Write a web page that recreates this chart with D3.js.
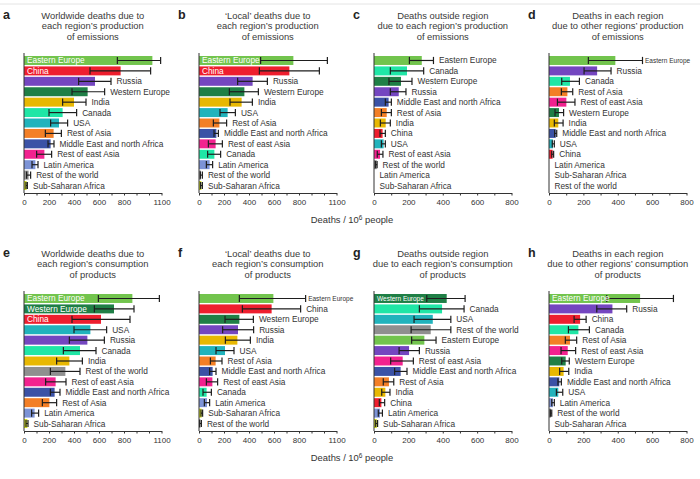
<!DOCTYPE html>
<html>
<head>
<meta charset="utf-8">
<script src="https://cdn.jsdelivr.net/npm/d3@7"></script>
<style>
  body { margin: 0; background: #fff; }
  text { font-family: "Liberation Sans", Arial, sans-serif; }
</style>
</head>
<body>
<svg id="chart" width="700" height="479"></svg>
<script>
// region colours
const regionColors = {
  "Eastern Europe": "#72c44d",
  "China": "#ee1e2e",
  "Russia": "#7446c0",
  "Western Europe": "#1f7f46",
  "India": "#e8b802",
  "Canada": "#20e6a6",
  "USA": "#21b3bc",
  "Rest of Asia": "#f37f26",
  "Middle East and north Africa": "#3b52a6",
  "Rest of east Asia": "#f2228f",
  "Latin America": "#7c93d6",
  "Rest of the world": "#8f8f8f",
  "Sub-Saharan Africa": "#d5e021",
};

const ticks1100 = [0, 200, 400, 600, 800, 1100];
const ticks800 = [0, 200, 400, 600, 800];

// a
const aNames = ["Eastern Europe", "China", "Russia", "Western Europe", "India", "Canada", "USA",
  "Rest of Asia", "Middle East and north Africa", "Rest of east Asia", "Latin America",
  "Rest of the world", "Sub-Saharan Africa"];
const aDeaths = [1027, 773, 568, 509, 400, 309, 280, 237, 213, 163, 91, 37, 21];
const aLow = [747, 528, 437, 384, 309, 200, 213, 171, 192, 101, 64, 21, 16];
const aHigh = [1093, 1013, 696, 645, 496, 421, 349, 299, 240, 221, 112, 53, 27];

// b
const bNames = ["Eastern Europe", "China", "Russia", "Western Europe", "India", "USA",
  "Rest of Asia", "Middle East and north Africa", "Rest of east Asia", "Canada", "Latin America",
  "Rest of the world", "Sub-Saharan Africa"];
const bDeaths = [755, 723, 429, 363, 341, 229, 163, 139, 133, 123, 85, 16, 19];
const bLow = [493, 483, 309, 243, 248, 168, 115, 120, 75, 69, 59, 11, 13];
const bHigh = [1027, 963, 547, 475, 427, 291, 221, 155, 187, 173, 109, 27, 27];

// c
const cNames = ["Eastern Europe", "Canada", "Western Europe", "Russia", "Middle East and north Africa",
  "Rest of Asia", "India", "China", "USA", "Rest of east Asia", "Rest of the world",
  "Latin America", "Sub-Saharan Africa"];
const cDeaths = [278, 192, 157, 144, 85, 74, 68, 50, 56, 35, 16, 0, 0];
const cLow = [206, 95, 87, 95, 66, 43, 37, 35, 43, 19, 8, 0, 0];
const cHigh = [346, 289, 221, 186, 101, 101, 95, 66, 66, 52, 18, 0, 0];

// d
const dNames = ["Eastern Europe", "Russia", "Canada", "Rest of Asia", "Rest of east Asia",
  "Western Europe", "India", "Middle East and north Africa", "USA", "China", "Latin America",
  "Sub-Saharan Africa", "Rest of the world"];
const dDeaths = [386, 280, 122, 107, 101, 58, 54, 39, 23, 21, 0, 0, 0];
const dLow = [229, 204, 74, 72, 49, 35, 31, 33, 19, 16, 0, 0, 0];
const dHigh = [544, 361, 177, 138, 151, 85, 82, 45, 31, 27, 0, 0, 0];

// e
const eNames = ["Eastern Europe", "Western Europe", "China", "USA", "Russia", "Canada", "India",
  "Rest of the world", "Rest of east Asia", "Middle East and north Africa", "Rest of Asia",
  "Latin America", "Sub-Saharan Africa"];
const eDeaths = [867, 720, 616, 531, 507, 448, 363, 331, 253, 245, 203, 85, 27];
const eLow = [595, 563, 384, 400, 363, 315, 261, 211, 173, 211, 147, 61, 16];
const eHigh = [1083, 880, 848, 661, 643, 576, 467, 448, 336, 288, 261, 117, 32];

// f
const fNames = ["Eastern Europe", "China", "Western Europe", "Russia", "India", "USA",
  "Rest of Asia", "Middle East and north Africa", "Rest of east Asia", "Canada", "Latin America",
  "Sub-Saharan Africa", "Rest of the world"];
const fDeaths = [595, 581, 323, 312, 307, 208, 133, 109, 107, 61, 64, 21, 11];
const fLow = [323, 347, 208, 189, 211, 136, 91, 85, 59, 32, 43, 16, 5];
const fHigh = [853, 813, 435, 437, 411, 280, 184, 136, 149, 99, 85, 29, 19];

// g
const gNames = ["Western Europe", "Canada", "USA", "Rest of the world", "Eastern Europe", "Russia",
  "Rest of east Asia", "Middle East and north Africa", "Rest of Asia", "India", "China",
  "Latin America", "Sub-Saharan Africa"];
const gDeaths = [423, 396, 342, 330, 293, 204, 167, 155, 87, 66, 43, 35, 16];
const gLow = [307, 264, 233, 216, 219, 146, 97, 120, 54, 45, 31, 25, 10];
const gHigh = [530, 524, 447, 447, 361, 264, 229, 192, 115, 93, 62, 49, 21];

// h
const hNames = ["Eastern Europe", "Russia", "China", "Canada", "Rest of Asia", "Rest of east Asia",
  "Western Europe", "India", "Middle East and north Africa", "USA", "Latin America",
  "Rest of the world", "Sub-Saharan Africa"];
const hDeaths = [530, 369, 181, 171, 122, 109, 97, 85, 60, 54, 23, 12, 0];
const hLow = [336, 278, 146, 113, 95, 70, 74, 62, 52, 43, 16, 8, 0];
const hHigh = [724, 452, 216, 235, 161, 155, 118, 115, 72, 80, 31, 16, 0];

const panels = [
  { id: "a", col: 0, row: 0, max: 1100, ticks: ticks1100, names: aNames, deaths: aDeaths, low: aLow, high: aHigh,
    inside: ["Eastern Europe", "China"], small: [],
    title: ["Worldwide deaths due to", "each region\u2019s production", "of emissions"] },
  { id: "b", col: 1, row: 0, max: 1100, ticks: ticks1100, names: bNames, deaths: bDeaths, low: bLow, high: bHigh,
    inside: ["Eastern Europe", "China"], small: [],
    title: ["\u2018Local\u2019 deaths due to", "each region\u2019s production", "of emissions"] },
  { id: "c", col: 2, row: 0, max: 800, ticks: ticks800, names: cNames, deaths: cDeaths, low: cLow, high: cHigh,
    inside: [], small: [],
    title: ["Deaths outside region", "due to each region\u2019s production", "of emissions"] },
  { id: "d", col: 3, row: 0, max: 800, ticks: ticks800, names: dNames, deaths: dDeaths, low: dLow, high: dHigh,
    inside: [], small: ["Eastern Europe"],
    title: ["Deaths in each region", "due to other regions\u2019 production", "of emissions"] },
  { id: "e", col: 0, row: 1, max: 1100, ticks: ticks1100, names: eNames, deaths: eDeaths, low: eLow, high: eHigh,
    inside: ["Eastern Europe", "Western Europe", "China"], small: [],
    title: ["Worldwide deaths due to", "each region\u2019s consumption", "of products"] },
  { id: "f", col: 1, row: 1, max: 1100, ticks: ticks1100, names: fNames, deaths: fDeaths, low: fLow, high: fHigh,
    inside: [], small: ["Eastern Europe"],
    title: ["\u2018Local\u2019 deaths due to", "each region\u2019s consumption", "of products"] },
  { id: "g", col: 2, row: 1, max: 800, ticks: ticks800, names: gNames, deaths: gDeaths, low: gLow, high: gHigh,
    inside: ["Western Europe"], small: ["Western Europe"],
    title: ["Deaths outside region", "due to each region\u2019s consumption", "of products"] },
  { id: "h", col: 3, row: 1, max: 800, ticks: ticks800, names: hNames, deaths: hDeaths, low: hLow, high: hHigh,
    inside: ["Eastern Europe"], small: [],
    title: ["Deaths in each region", "due to other regions\u2019 consumption", "of products"] },
];

const svg = d3.select("#chart");

// thin rule across the top
svg.append("line")
  .attr("x1", 0).attr("x2", 700).attr("y1", 4).attr("y2", 4)
  .attr("stroke", "#e4e4e4").attr("stroke-width", 1);

const axisWidth = 137.5;
const axisY = 193;

function drawPanel(p) {
  const g = svg.append("g")
    .attr("transform", `translate(${24 + p.col * 175},${p.row * 238})`);

  const x = d3.scaleLinear().domain([0, p.max]).range([0, axisWidth]);
  const y = d3.scaleBand().domain(p.names).range([56, 190]).paddingInner(0.14);

  const rows = p.names.map((name, i) => ({
    name, value: p.deaths[i], lo: p.low[i], hi: p.high[i],
  }));

  // panel letter
  g.append("text")
    .attr("x", -21).attr("y", 18.5)
    .attr("font-size", 12.5).attr("font-weight", "bold")
    .attr("fill", "#222")
    .text(p.id);

  // title
  g.append("g").selectAll("text")
    .data(p.title)
    .join("text")
    .attr("x", axisWidth / 2)
    .attr("y", (d, i) => 18.5 + i * 10.9)
    .attr("text-anchor", "middle")
    .attr("font-size", 9.4)
    .attr("fill", "#3a3a3a")
    .text((d) => d);

  // bars
  g.append("g").selectAll("rect")
    .data(rows)
    .join("rect")
    .attr("x", x(0))
    .attr("y", (d) => y(d.name))
    .attr("width", (d) => x(d.value))
    .attr("height", y.bandwidth())
    .attr("fill", (d) => regionColors[d.name]);

  // error bars
  const cap = 3.6;
  const err = g.append("g")
    .attr("stroke", "#1e1e1e")
    .attr("stroke-width", 1.2)
    .selectAll("g")
    .data(rows.filter((d) => d.hi > 0))
    .join("g")
    .attr("transform", (d) => `translate(0,${y(d.name) + y.bandwidth() / 2})`);
  err.append("line")
    .attr("x1", (d) => x(d.lo)).attr("x2", (d) => x(d.hi));
  err.append("line")
    .attr("x1", (d) => x(d.lo)).attr("x2", (d) => x(d.lo))
    .attr("y1", -cap).attr("y2", cap);
  err.append("line")
    .attr("x1", (d) => x(d.hi)).attr("x2", (d) => x(d.hi))
    .attr("y1", -cap).attr("y2", cap);

  // region labels
  g.append("g").selectAll("text")
    .data(rows)
    .join("text")
    .attr("x", (d) => {
      if (p.inside.includes(d.name)) return x(0) + 3;
      const gap = p.small.includes(d.name) ? 2.5 : 5.5;
      return x(Math.max(d.value, d.hi)) + gap;
    })
    .attr("y", (d) => y(d.name) + y.bandwidth() / 2)
    .attr("dy", "0.36em")
    .attr("font-size", (d) => (p.small.includes(d.name) ? 6.5 : 8.3))
    .attr("fill", (d) => (p.inside.includes(d.name) ? "#fff" : "#333"))
    .text((d) => d.name);

  // x axis
  const xAxis = d3.axisBottom(x)
    .tickValues(d3.range(0, p.max + 1, 100))
    .tickSize(2.5)
    .tickSizeOuter(0)
    .tickPadding(3.5)
    .tickFormat((d) => (p.ticks.includes(d) ? d : ""));
  const ax = g.append("g")
    .attr("transform", `translate(0,${axisY})`)
    .call(xAxis);
  ax.select(".domain").attr("stroke", "#333");
  ax.selectAll(".tick line").attr("stroke", "#333");
  ax.selectAll(".tick text")
    .attr("font-size", 8)
    .attr("font-family", '"Liberation Sans", Arial, sans-serif')
    .attr("fill", "#333");

  // y axis line
  g.append("line")
    .attr("x1", x(0)).attr("x2", x(0))
    .attr("y1", 53).attr("y2", axisY)
    .attr("stroke", "#333").attr("stroke-width", 1);
}

panels.forEach(drawPanel);

// shared axis titles
[223, 461].forEach((ty) => {
  const t = svg.append("text")
    .attr("x", 352).attr("y", ty)
    .attr("text-anchor", "middle")
    .attr("font-size", 9.4)
    .attr("fill", "#333");
  t.append("tspan").text("Deaths / 10");
  t.append("tspan").attr("font-size", 6.5).attr("dy", -3.5).text("6");
  t.append("tspan").attr("dy", 3.5).text(" people");
});
</script>
</body>
</html>
